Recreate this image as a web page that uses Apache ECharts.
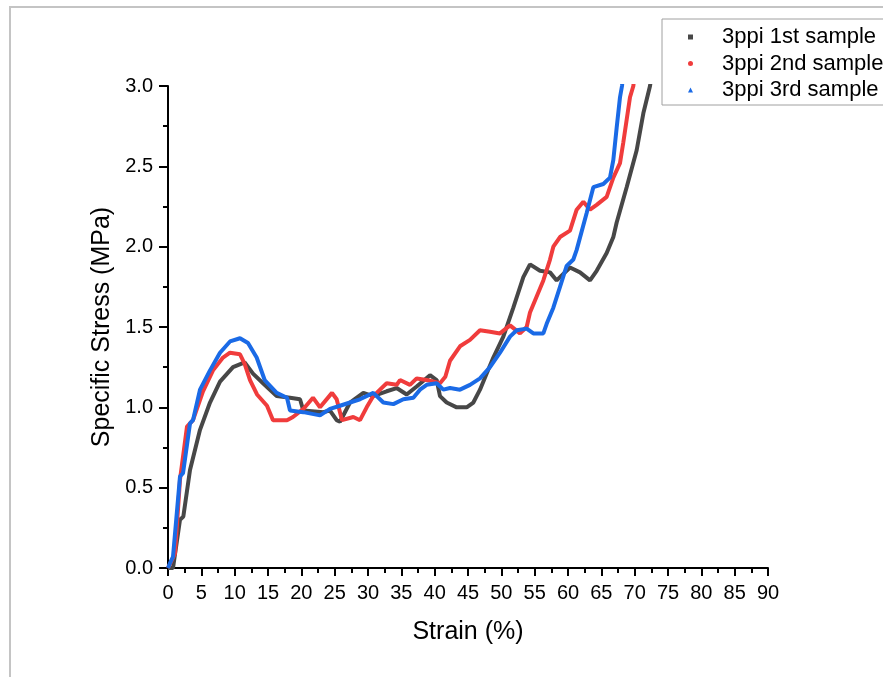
<!DOCTYPE html>
<html>
<head>
<meta charset="utf-8">
<script src="https://cdn.jsdelivr.net/npm/echarts@6/dist/echarts.min.js"></script>
<style>html,body{margin:0;padding:0;background:#fff;}#c{width:883px;height:677px;}</style>
</head>
<body>
<div id="c"></div>
<script>
var seriesNames = ['3ppi 1st sample', '3ppi 2nd sample', '3ppi 3rd sample'];
var xTicks = [0,5,10,15,20,25,30,35,40,45,50,55,60,65,70,75,80,85,90];
var yTicks = [0.0,0.5,1.0,1.5,2.0,2.5,3.0];

var strain1 = [0,0.75,1.8,2.3,3.3,4.8,6.3,7.8,9.75,11.5,12.75,14.25,16.3,18.3,19.8,20.3,23.3,24.3,25.3,25.8,27.3,29.3,30.75,32.8,34.3,35.8,37.3,39.3,40.3,40.8,41.8,43.3,44.8,45.8,46.8,47.8,48.8,50.3,51.8,53.3,54.3,55.8,57.3,58.3,60.3,61.8,63.3,64.3,65.8,66.8,67.3,68.8,70.3,71.3,72.3,72.6];
var stress1 = [0,0,0.3,0.32,0.61,0.86,1.03,1.16,1.25,1.28,1.21,1.15,1.07,1.06,1.05,0.98,0.97,0.98,0.92,0.91,1.03,1.09,1.07,1.1,1.12,1.08,1.13,1.2,1.17,1.07,1.03,1.0,1.0,1.03,1.11,1.21,1.31,1.44,1.62,1.81,1.89,1.85,1.84,1.79,1.87,1.84,1.79,1.85,1.96,2.06,2.15,2.37,2.6,2.83,3.0,3.08];

var strain2 = [0,0.3,1.05,1.8,2.85,3.75,5.25,6.75,8.25,9.3,10.8,11.5,12.3,13.35,14.85,15.75,17.85,18.75,20.3,21.75,22.8,24.6,25.3,26.1,27.8,28.8,29.8,30.8,31.8,32.8,34.3,34.8,36.3,37.3,38.8,40.8,41.6,42.3,43.8,45.3,46.8,48.3,49.8,51.3,52.8,53.8,54.3,55.3,56.3,57.3,57.8,58.8,60.3,61.3,62.3,63.3,64.3,65.8,66.8,67.8,68.3,68.8,69.3,69.8,70.0];
var stress2 = [0,0,0.09,0.55,0.88,0.92,1.1,1.23,1.31,1.34,1.33,1.27,1.17,1.08,1.01,0.92,0.92,0.94,0.99,1.06,1.0,1.09,1.05,0.92,0.94,0.92,1.0,1.07,1.11,1.15,1.14,1.17,1.14,1.18,1.17,1.15,1.19,1.29,1.38,1.42,1.48,1.47,1.46,1.51,1.46,1.5,1.59,1.69,1.79,1.92,2.0,2.06,2.1,2.23,2.28,2.23,2.26,2.31,2.43,2.52,2.65,2.79,2.93,3.0,3.08];

var strain3 = [0,0.3,0.75,1.8,2.25,3.3,3.75,4.8,6.3,7.8,9.3,10.8,12.0,13.3,14.5,16.3,17.85,18.3,20.3,22.8,24.3,25.8,27.3,28.8,30.8,32.3,33.8,35.3,36.8,37.8,38.8,40.3,41.3,42.3,43.8,45.3,46.8,48.3,49.8,51.3,52.3,53.8,54.8,56.3,56.8,57.8,58.8,59.8,60.8,61.3,62.8,63.8,65.3,66.3,66.8,67.3,67.8,68.1,68.3];
var stress3 = [0,0.03,0.07,0.57,0.59,0.9,0.92,1.11,1.23,1.34,1.41,1.43,1.4,1.31,1.17,1.09,1.06,0.98,0.97,0.95,0.99,1.01,1.03,1.05,1.09,1.03,1.02,1.05,1.06,1.11,1.14,1.15,1.11,1.12,1.11,1.14,1.18,1.25,1.34,1.44,1.48,1.49,1.46,1.46,1.52,1.62,1.75,1.88,1.92,1.98,2.21,2.37,2.39,2.43,2.54,2.74,2.93,3.0,3.08];

function pairs(xs, ys){ return xs.map(function(x,i){ return [x, ys[i]]; }); }

var colors = ['#474747', '#f03c3c', '#1a6ae6'];
var icons = ['rect', 'circle', 'triangle'];
var fontFam = '"Liberation Sans", Arial, sans-serif';

var chart = echarts.init(document.getElementById('c'));
chart.setOption({
  animation: false,
  backgroundColor: '#ffffff',
  graphic: [{
    type: 'rect',
    shape: { x: 10, y: 7, width: 900, height: 700 },
    style: { fill: 'none', stroke: '#c4c4c4', lineWidth: 2 },
    z: -10
  }],
  grid: { left: 168, top: 86, width: 600, height: 482, containLabel: false },
  legend: {
    orient: 'vertical',
    left: 662, top: 19,
    padding: [6, 40, 3, 26],
    itemGap: 2.5,
    itemWidth: 5, itemHeight: 5,
    borderColor: '#a0a0a0', borderWidth: 1,
    backgroundColor: '#ffffff',
    textStyle: { fontFamily: fontFam, fontSize: 22, color: '#000', lineHeight: 24, padding: [0, 0, 0, 24] },
    data: seriesNames.map(function(n, i){ return { name: n, icon: icons[i] }; })
  },
  xAxis: {
    type: 'value', min: 0, max: 90, interval: 5,
    name: 'Strain (%)', nameLocation: 'middle', nameGap: 52,
    nameTextStyle: { fontFamily: fontFam, fontSize: 25, color: '#000' },
    axisLine: { show: true, lineStyle: { color: '#000', width: 2 } },
    axisTick: { show: true, length: 8, lineStyle: { color: '#000', width: 2 } },
    minorTick: { show: true, splitNumber: 2, length: 5, lineStyle: { color: '#000', width: 2 } },
    axisLabel: { fontFamily: fontFam, fontSize: 20, color: '#000', margin: 15,
      formatter: function(v){ return xTicks.indexOf(v) >= 0 ? String(v) : ''; } },
    splitLine: { show: false }
  },
  yAxis: {
    type: 'value', min: 0, max: 3, interval: 0.5,
    name: 'Specific Stress (MPa)', nameLocation: 'middle', nameGap: 45,
    nameTextStyle: { fontFamily: fontFam, fontSize: 25, color: '#000' },
    axisLine: { show: true, lineStyle: { color: '#000', width: 2 } },
    axisTick: { show: true, length: 9, lineStyle: { color: '#000', width: 2 } },
    minorTick: { show: true, splitNumber: 2, length: 5, lineStyle: { color: '#000', width: 2 } },
    axisLabel: { fontFamily: fontFam, fontSize: 20, color: '#000', margin: 15,
      formatter: function(v){ return v.toFixed(1); } },
    splitLine: { show: false }
  },
  series: [
    { name: seriesNames[0], type: 'line', data: pairs(strain1, stress1), symbol: 'none', clip: true,
      itemStyle: { color: colors[0] }, lineStyle: { color: colors[0], width: 4 } },
    { name: seriesNames[1], type: 'line', data: pairs(strain2, stress2), symbol: 'none', clip: true,
      itemStyle: { color: colors[1] }, lineStyle: { color: colors[1], width: 4 } },
    { name: seriesNames[2], type: 'line', data: pairs(strain3, stress3), symbol: 'none', clip: true,
      itemStyle: { color: colors[2] }, lineStyle: { color: colors[2], width: 4 } }
  ]
});
</script>
</body>
</html>
